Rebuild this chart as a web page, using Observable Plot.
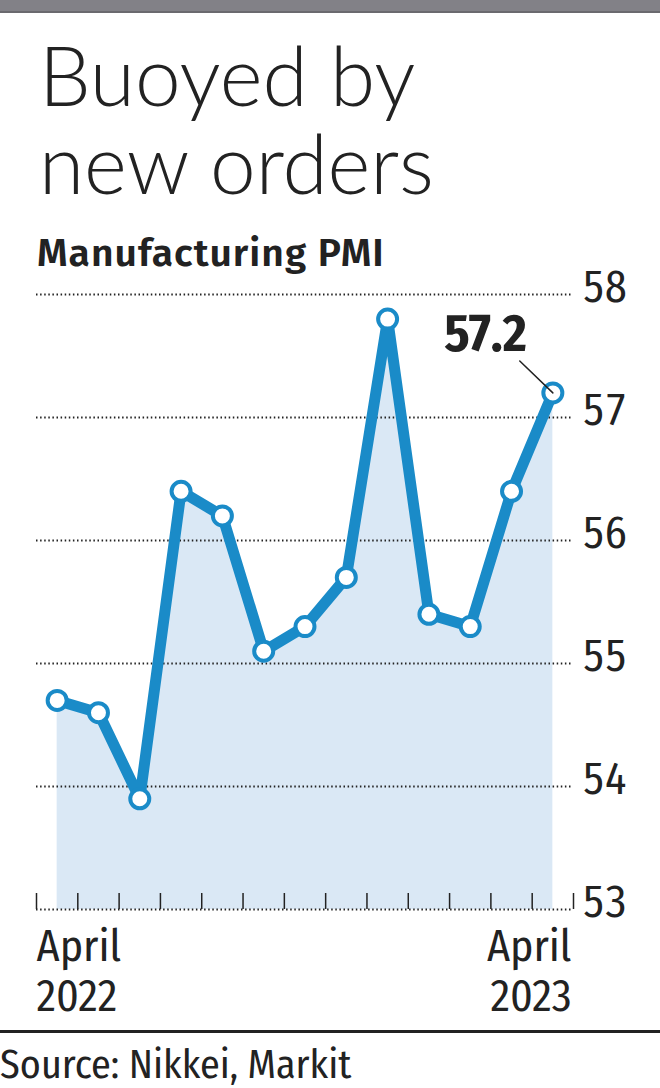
<!DOCTYPE html>
<html><head><meta charset="utf-8">
<script src="https://cdn.jsdelivr.net/npm/d3@7"></script>
<script src="https://cdn.jsdelivr.net/npm/@observablehq/plot@0.6"></script>
<style>
body{margin:0;background:#fff;width:660px;height:1088px;position:relative;overflow:hidden;color:#222}
#bar{position:absolute;left:0;top:0;width:660px;height:11px;background:#828187;border-bottom:2px solid #6a696e}
#title{position:absolute;left:39px;top:30px;font-family:Lato,Roboto,sans-serif;font-weight:300;font-size:82px;line-height:88px;white-space:nowrap;color:#222}
#subtitle{position:absolute;left:37px;top:231px;font-family:"Fira Sans","Noto Sans",sans-serif;font-weight:600;font-size:39px;letter-spacing:1px;line-height:44px;white-space:nowrap;color:#222}
#chart{position:absolute;left:0;top:270px}
#rule{position:absolute;left:0;top:1030px;width:660px;height:3px;background:#222}
#source{position:absolute;left:0;top:1042px;font-family:"Fira Sans Condensed","Roboto Condensed",sans-serif;font-size:40px;line-height:46px;white-space:nowrap;color:#222}
</style></head>
<body>
<div id="bar"></div>
<div id="title">Buoyed by<br>new orders</div>
<div id="subtitle">Manufacturing PMI</div>
<div id="chart"></div>
<div id="rule"></div>
<div id="source">Source: Nikkei, Markit</div>
<script>
const months = ["Apr 2022","May 2022","Jun 2022","Jul 2022","Aug 2022","Sep 2022","Oct 2022","Nov 2022","Dec 2022","Jan 2023","Feb 2023","Mar 2023","Apr 2023"];
const pmi = [54.7, 54.6, 53.9, 56.4, 56.2, 55.1, 55.3, 55.7, 57.8, 55.4, 55.3, 56.4, 57.2];
const yTicks = [53, 54, 55, 56, 57, 58];
const xFirstLabel = "April\n2022";
const xLastLabel = "April\n2023";
const annotation = "57.2";

const data = months.map((m, i) => ({i, month: m, value: pmi[i]}));
const last = data[data.length - 1];
const edges = d3.range(-0.5, months.length, 1);

const W = 660, H = 760, mT = 24, mB = 121, mL = 36, mR = 87;
const frameH = H - mT - mB;
const condensed = "'Fira Sans Condensed','Roboto Condensed',sans-serif";
const blue = "#1a8bc8";

const chart = Plot.plot({
  width: W, height: H,
  marginTop: mT, marginBottom: mB, marginLeft: mL, marginRight: mR,
  style: {fontFamily: condensed, color: "#222", background: "transparent", overflow: "visible"},
  x: {type: "linear", domain: [-0.5, months.length - 0.5], axis: null},
  y: {domain: [yTicks[0], yTicks[yTicks.length - 1]], axis: null},
  marks: [
    Plot.areaY(data, {x: "i", y1: yTicks[0], y2: "value", fill: "#dae8f5"}),
    Plot.ruleY(yTicks, {stroke: "#222", strokeWidth: 2, strokeDasharray: "1.5 2.6"}),
    Plot.tickX(edges, {x: d => d, insetTop: frameH - 16, stroke: "#222", strokeWidth: 1.5}),
    Plot.axisY(yTicks, {anchor: "right", tickSize: 0, tickPadding: 9, dy: -7, fontSize: 44, fill: "#222", label: null, tickFormat: d3.format("d")}),
    Plot.text([xFirstLabel], {x: [edges[0]], frameAnchor: "bottom", text: d => d, textAnchor: "start", lineAnchor: "top", dy: 16, lineHeight: 1.14, fontSize: 44, fill: "#222", style: {letterSpacing: "0.6px"}}),
    Plot.text([xLastLabel], {x: [edges[edges.length - 1]], frameAnchor: "bottom", text: d => d, textAnchor: "end", dx: -2, lineAnchor: "top", dy: 16, lineHeight: 1.14, fontSize: 44, fill: "#222"}),
    Plot.line(data, {x: "i", y: "value", stroke: blue, strokeWidth: 11, strokeLinejoin: "round"}),
    Plot.dot(data, {x: "i", y: "value", r: 9.5, fill: "white", stroke: blue, strokeWidth: 4}),
    Plot.vector([last], {x: "i", y: "value", length: 46, rotate: -46, anchor: "start", stroke: "#222", strokeWidth: 1.5,
      shape: {draw(ctx, l) { ctx.moveTo(0, 0); ctx.lineTo(0, -l); }}}),
    Plot.text([last], {x: "i", y: "value", text: () => annotation, dx: -26, dy: -42, textAnchor: "end", lineAnchor: "bottom", fontSize: 52, fontWeight: "bold", fill: "#222"})
  ]
});
document.getElementById("chart").appendChild(chart);
</script>
</body></html>
